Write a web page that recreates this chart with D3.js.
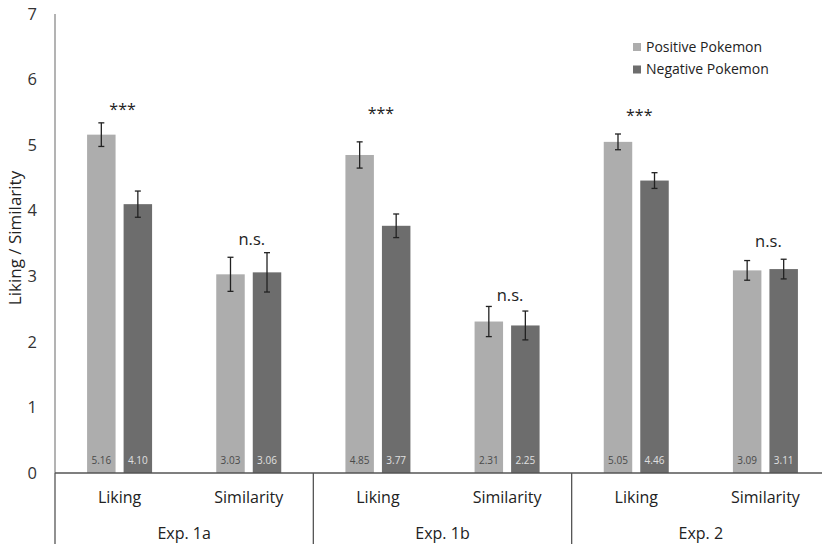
<!DOCTYPE html>
<html>
<head>
<meta charset="utf-8">
<script src="https://cdn.jsdelivr.net/npm/d3@7"></script>
<style>
body { margin: 0; background: #fff; }
text { font-family: "Open Sans", "Noto Sans", sans-serif; }
</style>
</head>
<body>
<script>
var experiments = ["Exp. 1a", "Exp. 1b", "Exp. 2"];
var measures = ["Liking", "Similarity"];
var seriesNames = ["Positive Pokemon", "Negative Pokemon"];
var positiveVals = [5.16, 3.03, 4.85, 2.31, 5.05, 3.09];
var negativeVals = [4.10, 3.06, 3.77, 2.25, 4.46, 3.11];
var positiveErr = [0.18, 0.26, 0.20, 0.23, 0.12, 0.15];
var negativeErr = [0.20, 0.30, 0.18, 0.22, 0.12, 0.15];
var sigLabels = ["***", "n.s.", "***", "n.s.", "***", "n.s."];
var sigHeights = [5.55, 3.56, 5.49, 2.71, 5.46, 3.53];
var yTicks = [0, 1, 2, 3, 4, 5, 6, 7];

var colors = ["#adadad", "#6d6d6d"];
var width = 822, height = 544;
var plotLeft = 55, plotRight = 830, plotTop = 14, plotBottom = 473;

var svg = d3.select("body").append("svg")
    .attr("width", width)
    .attr("height", height);

// build rows
var cats = [];
experiments.forEach(function(e) {
    measures.forEach(function(m) { cats.push(e + "|" + m); });
});
var rows = [];
cats.forEach(function(c, i) {
    rows.push({cat: c, s: 0, v: positiveVals[i], err: positiveErr[i]});
    rows.push({cat: c, s: 1, v: negativeVals[i], err: negativeErr[i]});
});

var xExp = d3.scaleBand().domain(experiments).range([plotLeft, plotRight]);
var xCat = d3.scaleBand().domain(cats).range([plotLeft, plotRight]);
var xSer = d3.scaleBand().domain([0, 1]).range([-32.5, 32.5]).paddingInner(0.22);
var y = d3.scaleLinear().domain([0, 7]).range([plotBottom, plotTop]);

function barX(d) {
    return xCat(d.cat) + xCat.bandwidth() / 2 + xSer(d.s);
}

// y axis line
svg.append("line")
    .attr("x1", plotLeft).attr("x2", plotLeft)
    .attr("y1", y(7)).attr("y2", y(0))
    .attr("stroke", "#8a8a8a").attr("stroke-width", 1.3);

// y tick labels
svg.append("g").selectAll("text")
    .data(yTicks).enter().append("text")
    .attr("x", 37)
    .attr("y", function(d) { return y(d); })
    .attr("dy", "0.35em")
    .attr("text-anchor", "end")
    .attr("font-size", 16.5)
    .attr("fill", "#333")
    .text(function(d) { return d; });

// y axis title
svg.append("text")
    .attr("transform", "translate(15," + 238 + ") rotate(-90)")
    .attr("text-anchor", "middle")
    .attr("dy", "0.35em")
    .attr("font-size", 17)
    .attr("fill", "#222")
    .text("Liking / Similarity");

// bars
svg.append("g").selectAll("rect")
    .data(rows).enter().append("rect")
    .attr("x", barX)
    .attr("y", function(d) { return y(d.v); })
    .attr("width", xSer.bandwidth())
    .attr("height", function(d) { return y(0) - y(d.v); })
    .attr("fill", function(d) { return colors[d.s]; });

// value labels in bars
svg.append("g").selectAll("text")
    .data(rows).enter().append("text")
    .attr("x", function(d) { return barX(d) + xSer.bandwidth() / 2; })
    .attr("y", y(0) - 13)
    .attr("dy", "0.35em")
    .attr("text-anchor", "middle")
    .attr("font-size", 10)
    .attr("fill", function(d) { return d.s == 0 ? "#4a4a4a" : "#e0e0e0"; })
    .text(function(d) { return d.v.toFixed(2); });

// error bars
var eb = svg.append("g").selectAll("g")
    .data(rows).enter().append("g")
    .attr("stroke", "#222").attr("stroke-width", 1.3);
eb.append("line")
    .attr("x1", function(d) { return barX(d) + xSer.bandwidth() / 2; })
    .attr("x2", function(d) { return barX(d) + xSer.bandwidth() / 2; })
    .attr("y1", function(d) { return y(d.v + d.err); })
    .attr("y2", function(d) { return y(d.v - d.err); });
eb.append("line")
    .attr("x1", function(d) { return barX(d) + xSer.bandwidth() / 2 - 3; })
    .attr("x2", function(d) { return barX(d) + xSer.bandwidth() / 2 + 3; })
    .attr("y1", function(d) { return y(d.v + d.err); })
    .attr("y2", function(d) { return y(d.v + d.err); });
eb.append("line")
    .attr("x1", function(d) { return barX(d) + xSer.bandwidth() / 2 - 3; })
    .attr("x2", function(d) { return barX(d) + xSer.bandwidth() / 2 + 3; })
    .attr("y1", function(d) { return y(d.v - d.err); })
    .attr("y2", function(d) { return y(d.v - d.err); });

// significance labels
svg.append("g").selectAll("text")
    .data(cats).enter().append("text")
    .attr("x", function(d) { return xCat(d) + xCat.bandwidth() / 2 + 3; })
    .attr("y", function(d, i) { return y(sigHeights[i]); })
    .attr("dy", "0.35em")
    .attr("text-anchor", "middle")
    .attr("font-size", function(d, i) { return sigLabels[i] == "***" ? 16 : 16.5; })
    .attr("fill", "#222")
    .text(function(d, i) { return sigLabels[i]; });

// x axis line and dividers
svg.append("line")
    .attr("x1", plotLeft).attr("x2", plotRight)
    .attr("y1", y(0)).attr("y2", y(0))
    .attr("stroke", "#555").attr("stroke-width", 1.3);
svg.append("g").selectAll("line")
    .data(experiments).enter().append("line")
    .attr("x1", function(d) { return xExp(d); })
    .attr("x2", function(d) { return xExp(d); })
    .attr("y1", y(0)).attr("y2", height)
    .attr("stroke", "#555").attr("stroke-width", 1.3);

// category labels
svg.append("g").selectAll("text")
    .data(cats).enter().append("text")
    .attr("x", function(d) { return xCat(d) + xCat.bandwidth() / 2; })
    .attr("y", 497)
    .attr("dy", "0.35em")
    .attr("text-anchor", "middle")
    .attr("font-size", 16)
    .attr("fill", "#222")
    .text(function(d) { return d.split("|")[1]; });

svg.append("g").selectAll("text")
    .data(experiments).enter().append("text")
    .attr("x", function(d) { return xExp(d) + xExp.bandwidth() / 2; })
    .attr("y", 533)
    .attr("dy", "0.35em")
    .attr("text-anchor", "middle")
    .attr("font-size", 16)
    .attr("fill", "#222")
    .text(function(d) { return d; });

// legend
var lg = svg.append("g").attr("transform", "translate(633,47)");
var li = lg.selectAll("g").data(seriesNames).enter().append("g")
    .attr("transform", function(d, i) { return "translate(0," + (i * 22.5) + ")"; });
li.append("rect")
    .attr("x", 0).attr("y", -4)
    .attr("width", 8).attr("height", 8)
    .attr("fill", function(d, i) { return colors[i]; });
li.append("text")
    .attr("x", 13).attr("y", 0)
    .attr("dy", "0.35em")
    .attr("font-size", 14)
    .attr("fill", "#222")
    .text(function(d) { return d; });
</script>
</body>
</html>
